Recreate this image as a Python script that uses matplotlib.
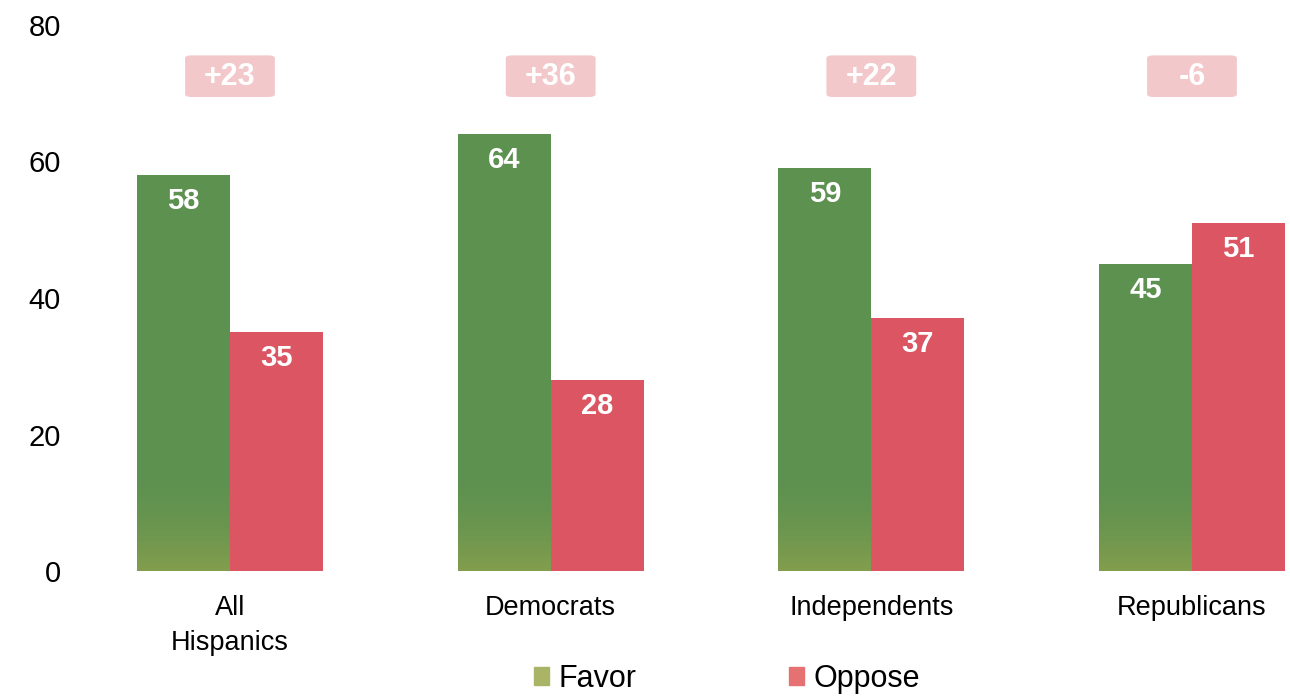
import numpy as np
import matplotlib.pyplot as plt
from matplotlib.patches import Patch, FancyBboxPatch
from matplotlib.colors import LinearSegmentedColormap

plt.rcParams['font.family'] = ['Liberation Sans', 'DejaVu Sans']

# Data
groups = ["All\nHispanics", "Democrats", "Independents", "Republicans"]
favor = [58, 64, 59, 45]
oppose = [35, 28, 37, 51]
diffs = ["+23", "+36", "+22", "-6"]

green = "#5c9150"
red = "#db5563"

fig = plt.figure(figsize=(12.9, 6.96), dpi=100)
ax = fig.add_axes([75 / 1290, 125 / 696, 1 - 75 / 1290, 546 / 696])

x = np.arange(len(groups))
w = 0.29
b1 = ax.bar(x - w / 2, favor, w, color=green)
b2 = ax.bar(x + w / 2, oppose, w, color=red)

# olive tint at the bottom of the green bars
cmap = LinearSegmentedColormap.from_list("tint", [(0.58, 0.64, 0.30, 0.7), (0.36, 0.57, 0.31, 0.0)])
for b in b1:
    im = ax.imshow(np.linspace(0, 1, 64).reshape(-1, 1), cmap=cmap, origin="lower",
                   extent=(b.get_x(), b.get_x() + b.get_width(), 0, 17),
                   aspect="auto", zorder=2)
    im.set_clip_path(b)

for bars in (b1, b2):
    for b in bars:
        ax.text(b.get_x() + b.get_width() / 2, b.get_height() - 3.8, str(int(b.get_height())),
                ha="center", va="center", color="white", fontsize=21, fontweight="bold", zorder=3)

bw, bh = 0.28, 6.1
for xi, d in zip(x, diffs):
    ax.add_patch(FancyBboxPatch((xi - bw / 2, 72.5 - bh / 2), bw, bh,
                                boxstyle="round,pad=0,rounding_size=0.02",
                                mutation_aspect=20, fc="#f3c8ca", ec="none"))
    ax.text(xi, 72.4, d, ha="center", va="center", color="white", fontsize=22,
            fontweight="bold")

ax.set_xlim(-(230 - 75) / 320.7, 3 + 98 / 320.7)
ax.set_ylim(0, 80)
ax.set_yticks([0, 20, 40, 60, 80])
ax.set_xticks(x)
ax.set_xticklabels(groups, linespacing=1.45)
ax.tick_params(axis="y", length=0, labelsize=21, pad=10)
ax.tick_params(axis="x", length=0, labelsize=19.5, pad=17)
for s in ax.spines.values():
    s.set_visible(False)

handles = [Patch(color="#a9b466", label="Favor"), Patch(color="#e57173", label="Oppose")]
fig.legend(handles=handles, loc="center", bbox_to_anchor=(727 / 1290, 17 / 696), ncol=2,
           frameon=False, fontsize=22, handlelength=0.5, handleheight=0.5,
           handletextpad=0.3, columnspacing=5.0)

fig.savefig("out.png", dpi=100)
